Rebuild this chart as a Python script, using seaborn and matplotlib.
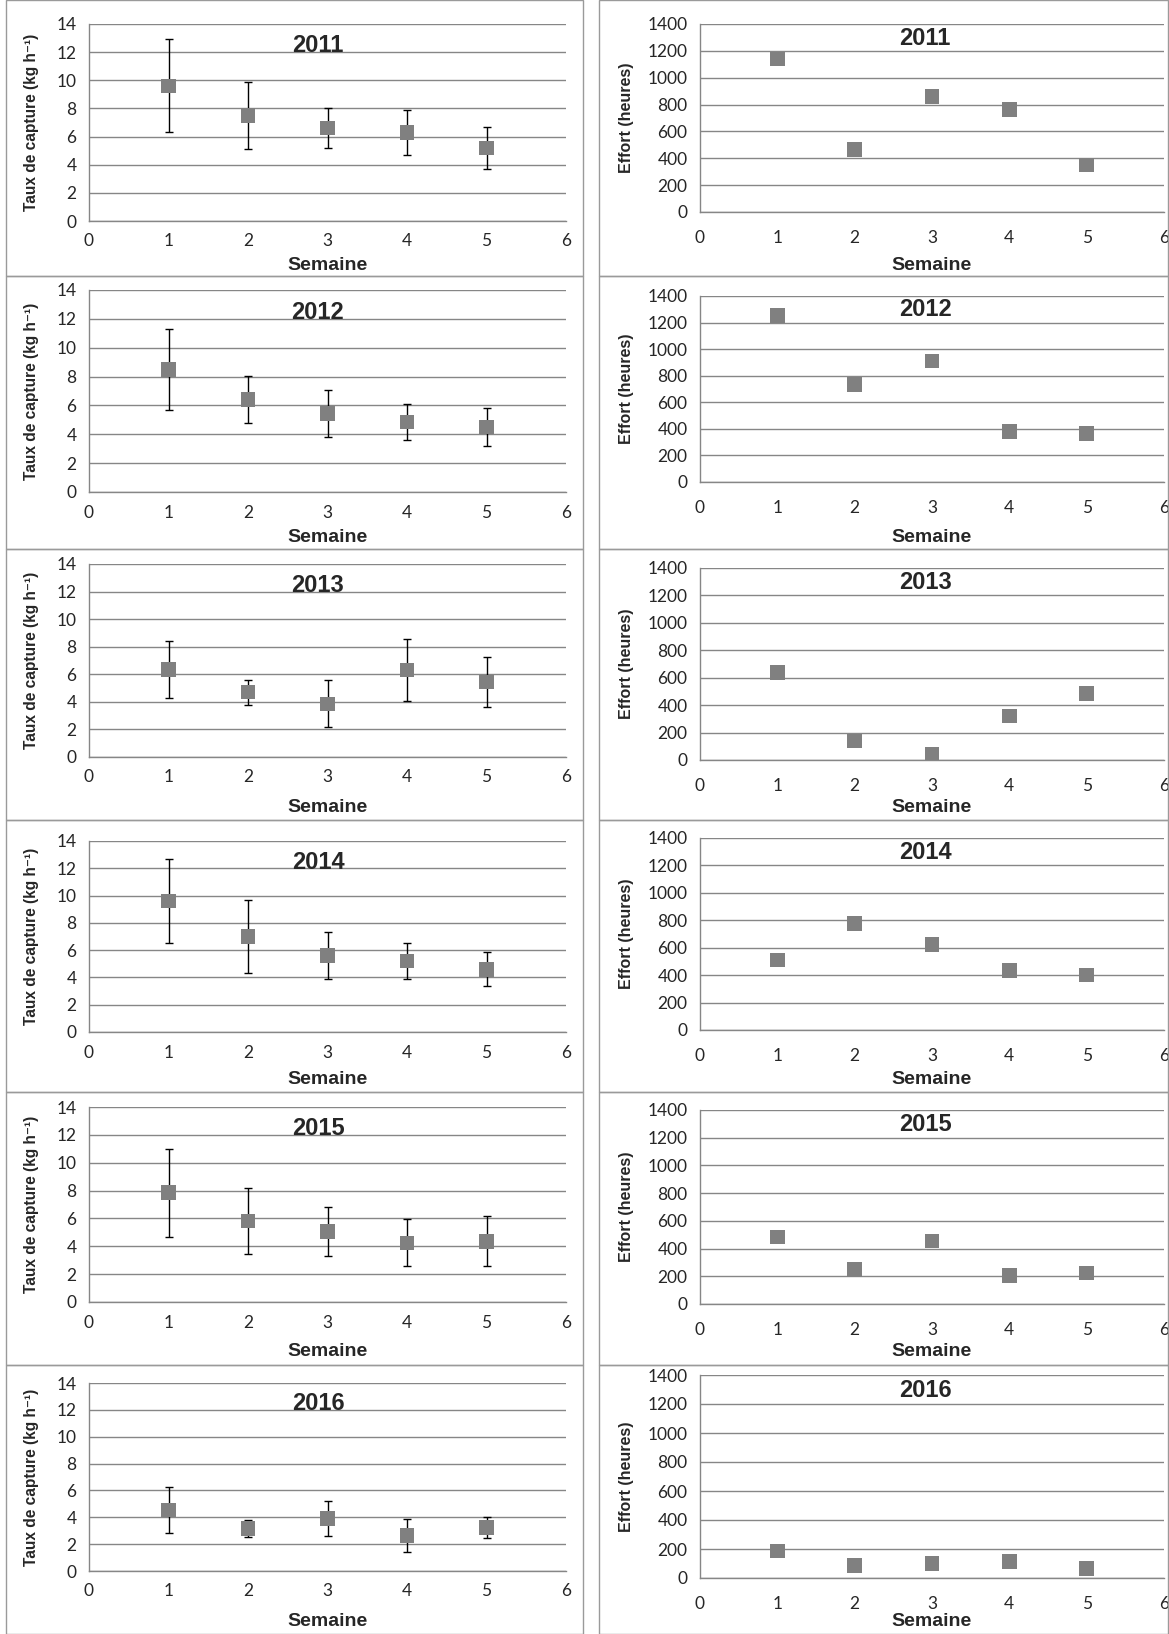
import numpy as np
import pandas as pd
import seaborn as sns
import matplotlib.pyplot as plt
from matplotlib.patches import Rectangle

# --- data ---
years = [2011, 2012, 2013, 2014, 2015, 2016]
semaines = [1, 2, 3, 4, 5]

taux_2011 = [9.6, 7.5, 6.6, 6.3, 5.2]
err_2011 = [3.3, 2.4, 1.4, 1.6, 1.5]
taux_2012 = [8.5, 6.4, 5.45, 4.85, 4.5]
err_2012 = [2.8, 1.65, 1.65, 1.25, 1.3]
taux_2013 = [6.35, 4.7, 3.85, 6.3, 5.45]
err_2013 = [2.1, 0.9, 1.7, 2.25, 1.8]
taux_2014 = [9.6, 7.0, 5.6, 5.2, 4.6]
err_2014 = [3.05, 2.65, 1.7, 1.35, 1.25]
taux_2015 = [7.85, 5.8, 5.05, 4.25, 4.35]
err_2015 = [3.15, 2.35, 1.75, 1.7, 1.8]
taux_2016 = [4.55, 3.15, 3.9, 2.65, 3.25]
err_2016 = [1.7, 0.65, 1.3, 1.2, 0.8]

effort_2011 = [1140, 465, 860, 765, 350]
effort_2012 = [1255, 735, 910, 380, 365]
effort_2013 = [640, 140, 45, 320, 485]
effort_2014 = [510, 775, 625, 435, 400]
effort_2015 = [485, 250, 455, 205, 225]
effort_2016 = [185, 85, 100, 115, 65]

taux = [taux_2011, taux_2012, taux_2013, taux_2014, taux_2015, taux_2016]
errs = [err_2011, err_2012, err_2013, err_2014, err_2015, err_2016]
effort = [effort_2011, effort_2012, effort_2013, effort_2014, effort_2015, effort_2016]

# --- layout (pixels) ---
W, H = 1169, 1634
row_edges = [0, 276, 549, 820, 1092, 1365, 1634]
left_tb = [(24, 221), (290, 492), (564, 757), (841, 1032), (1107, 1302), (1383, 1571)]
right_tb = [(24, 212), (296, 482), (568, 760), (838, 1030), (1110, 1304), (1375, 1578)]
semaine_y = [266, 538, 808, 1080, 1351, 1622]
left_x = (89, 566)
right_x = (700, 1164)

GRAY = "#808080"
LINE = "#868686"
BOLD = ["Liberation Sans", "DejaVu Sans"]

sns.set_style("white")
plt.rcParams["font.family"] = ["Lato", "DejaVu Sans"]


def rect(x0, x1, top, bottom):
    return [x0 / W, 1 - bottom / H, (x1 - x0) / W, (bottom - top) / H]


def style_axes(ax, ymax, ystep, tb, label_y, xpad):
    ax.set_xlim(0, 6)
    ax.set_ylim(0, ymax)
    ax.set_xticks(range(0, 7))
    ax.set_yticks(np.arange(0, ymax + 1, ystep))
    ax.grid(axis="y", color=LINE, lw=1)
    ax.grid(axis="x", visible=False)
    ax.set_axisbelow(True)
    for s in ["top", "right"]:
        ax.spines[s].set_visible(False)
    for s in ["left", "bottom"]:
        ax.spines[s].set_color(LINE)
        ax.spines[s].set_linewidth(1)
    ax.tick_params(axis="both", direction="out", length=5, width=1,
                   color=LINE, labelsize=12.5, pad=4)
    ax.tick_params(axis="x", pad=xpad)
    ax.set_xlabel("Semaine", fontsize=14, fontweight="bold", family=BOLD)
    ax.xaxis.label.set_va("center")
    top, bottom = tb
    ax.xaxis.set_label_coords(0.5, -(label_y - bottom) / (bottom - top))


fig = plt.figure(figsize=(W / 100, H / 100), dpi=100)

for i, yr in enumerate(years):
    # panel frames
    y0, y1 = row_edges[i], row_edges[i + 1]
    fig.patches.append(Rectangle((6 / W, 1 - y1 / H), (583 - 6) / W, (y1 - y0) / H,
                                 transform=fig.transFigure, fill=False,
                                 edgecolor="#9a9a9a", lw=1))
    fig.patches.append(Rectangle((599 / W, 1 - y1 / H), (1168 - 599) / W, (y1 - y0) / H,
                                 transform=fig.transFigure, fill=False,
                                 edgecolor="#9a9a9a", lw=1))

    # catch rate
    df = pd.DataFrame({"semaine": semaines, "taux": taux[i], "err": errs[i]})
    ax = fig.add_axes(rect(*left_x, *left_tb[i]))
    ax.errorbar(df["semaine"], df["taux"], yerr=df["err"], fmt="none",
                ecolor="black", elinewidth=1, capsize=3, capthick=1, zorder=2)
    sns.scatterplot(data=df, x="semaine", y="taux", marker="s", s=110,
                    color=GRAY, edgecolor="none", ax=ax, zorder=3)
    style_axes(ax, 14, 2, left_tb[i], semaine_y[i], 4)
    ax.set_ylabel("Taux de capture (kg h\u207b\u00b9)", fontsize=11.2,
                  fontweight="bold", family=BOLD)
    ax.yaxis.set_label_coords(-0.105, 0.5)
    ax.text(0.48, 0.89, str(yr), transform=ax.transAxes, ha="center",
            va="center", fontsize=17, fontweight="bold", family=BOLD)

    # effort
    de = pd.DataFrame({"semaine": semaines, "effort": effort[i]})
    ax2 = fig.add_axes(rect(*right_x, *right_tb[i]))
    sns.scatterplot(data=de, x="semaine", y="effort", marker="s", s=110,
                    color=GRAY, edgecolor="none", ax=ax2, zorder=3)
    style_axes(ax2, 1400, 200, right_tb[i], semaine_y[i], 8)
    ax2.set_ylabel("Effort (heures)", fontsize=11.5, fontweight="bold",
                   family=BOLD)
    ax2.yaxis.set_label_coords(-0.142, 0.5)
    ax2.text(0.485, 0.925, str(yr), transform=ax2.transAxes, ha="center",
             va="center", fontsize=17, fontweight="bold", family=BOLD)

fig.savefig("out.png", dpi=100)
